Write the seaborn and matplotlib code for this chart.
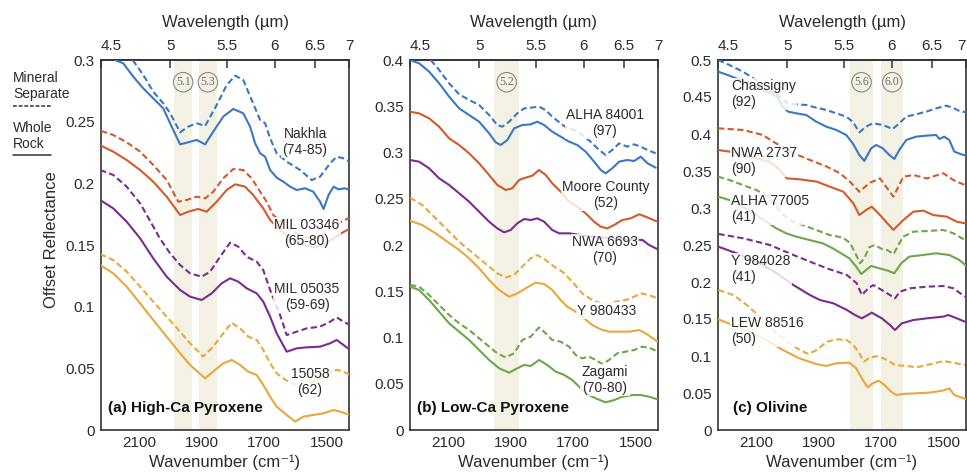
import numpy as np
import pandas as pd
import matplotlib
matplotlib.use("Agg")
import matplotlib.pyplot as plt
import matplotlib.transforms as mtransforms
from matplotlib.lines import Line2D
from matplotlib.ticker import FormatStrFormatter
import seaborn as sns

# ---------------- data (wavenumber cm-1, offset reflectance) ----------------
# (a) High-Ca pyroxene
nakhla_ms = [(2121,0.300),(2087,0.2879),(2055,0.2743),(2023,0.2649),(2001,0.2568),(1969,0.2414),(1943,0.2460),(1916,0.2487),(1889,0.2465),(1852,0.2635),(1820,0.2797),(1793,0.2873),(1767,0.2838),(1740,0.2676),(1713,0.2514),(1697,0.2487),(1681,0.2365),(1660,0.2243),(1628,0.2176),(1585,0.2108),(1548,0.2027),(1521,0.2054),(1489,0.2162),(1468,0.2216),(1446,0.2203),(1428,0.2176)]
nakhla_wr = [(2177,0.300),(2151,0.2973),(2119,0.2865),(2087,0.2770),(2055,0.2689),(2023,0.2608),(1996,0.2459),(1969,0.2316),(1943,0.2333),(1916,0.2352),(1889,0.2316),(1863,0.2419),(1831,0.2541),(1799,0.2603),(1767,0.2568),(1745,0.2459),(1729,0.2324),(1713,0.2243),(1697,0.2216),(1681,0.2108),(1660,0.2046),(1639,0.2014),(1617,0.1973),(1596,0.1946),(1569,0.1960),(1543,0.1932),(1521,0.1851),(1510,0.1792),(1494,0.1905),(1478,0.1973),(1462,0.1951),(1441,0.1960),(1428,0.1946)]
mil03346_ms = [(2222,0.2425),(2183,0.2392),(2140,0.2333),(2097,0.2257),(2055,0.2149),(2012,0.2027),(1975,0.1851),(1948,0.1865),(1916,0.1892),(1889,0.1878),(1863,0.1932),(1831,0.2041),(1799,0.2116),(1767,0.2108),(1740,0.2041),(1713,0.1932),(1692,0.1851),(1671,0.1743),(1620,0.163),(1585,0.158),(1550,0.155),(1520,0.157),(1490,0.163),(1460,0.168),(1428,0.172)]
mil03346_wr = [(2222,0.2305),(2183,0.2257),(2140,0.2189),(2097,0.2108),(2055,0.2013),(2012,0.1892),(1969,0.1743),(1943,0.1770),(1911,0.1792),(1884,0.1770),(1852,0.1851),(1820,0.1946),(1793,0.1992),(1761,0.1973),(1735,0.1905),(1703,0.1797),(1681,0.1703),(1650,0.162),(1610,0.155),(1570,0.150),(1540,0.148),(1510,0.150),(1480,0.155),(1450,0.160),(1428,0.163)]
mil05035_ms = [(2225,0.2108),(2183,0.2068),(2140,0.1973),(2097,0.1838),(2055,0.165),(2033,0.155),(2001,0.1432),(1969,0.1338),(1937,0.1270),(1900,0.1243),(1873,0.1284),(1841,0.1405),(1809,0.1519),(1783,0.1487),(1756,0.1405),(1724,0.1365),(1703,0.1297),(1681,0.1135),(1649,0.0932),(1628,0.0770),(1596,0.0797),(1564,0.0824),(1521,0.0838),(1489,0.0878),(1468,0.0913),(1446,0.0878),(1425,0.0851)]
mil05035_wr = [(2225,0.1865),(2183,0.1797),(2140,0.1689),(2097,0.1554),(2055,0.1392),(2012,0.1243),(1969,0.1135),(1937,0.1081),(1900,0.1054),(1868,0.1108),(1836,0.1189),(1809,0.1230),(1783,0.1203),(1756,0.1149),(1724,0.1108),(1703,0.1041),(1681,0.0919),(1660,0.0784),(1628,0.0635),(1596,0.0662),(1564,0.0670),(1521,0.0676),(1489,0.0703),(1468,0.0730),(1446,0.0689),(1425,0.0649)]
s15058_ms = [(2225,0.1427),(2183,0.1378),(2140,0.1284),(2097,0.1162),(2055,0.1041),(2012,0.0919),(1969,0.0797),(1937,0.0703),(1895,0.0595),(1863,0.0676),(1831,0.0784),(1804,0.0870),(1777,0.0824),(1751,0.0757),(1724,0.0730),(1703,0.0649),(1681,0.0541),(1660,0.0459),(1628,0.040),(1596,0.036),(1564,0.037),(1532,0.040),(1489,0.0473),(1468,0.0487),(1446,0.0473),(1425,0.0446)]
s15058_wr = [(2225,0.1338),(2183,0.1270),(2140,0.1162),(2097,0.1027),(2055,0.0892),(2012,0.0757),(1969,0.0622),(1937,0.0527),(1889,0.0419),(1857,0.0487),(1831,0.0541),(1804,0.0568),(1777,0.0527),(1751,0.0473),(1724,0.0446),(1703,0.0365),(1681,0.0270),(1660,0.0189),(1628,0.0122),(1601,0.0068),(1575,0.0108),(1543,0.0122),(1510,0.0135),(1478,0.0162),(1457,0.0149),(1425,0.0122)]

# (b) Low-Ca pyroxene
alha84001_ms = [(2156,0.4000),(2129,0.3892),(2097,0.3748),(2065,0.3629),(2033,0.3568),(2001,0.3514),(1969,0.3405),(1943,0.3297),(1927,0.3279),(1905,0.3333),(1879,0.3423),(1857,0.3477),(1836,0.3485),(1809,0.3495),(1788,0.3459),(1767,0.3387),(1740,0.3315),(1719,0.3261),(1697,0.3243),(1671,0.3189),(1644,0.3117),(1617,0.3027),(1596,0.2973),(1575,0.3027),(1553,0.3099),(1527,0.3063),(1505,0.3088),(1484,0.3063),(1462,0.3027),(1436,0.2991)]
alha84001_wr = [(2222,0.4000),(2193,0.3964),(2161,0.3874),(2129,0.3748),(2097,0.3604),(2065,0.3477),(2033,0.3405),(2001,0.3333),(1969,0.3207),(1948,0.3110),(1932,0.3081),(1911,0.3135),(1889,0.3261),(1863,0.3297),(1836,0.3304),(1815,0.3333),(1793,0.3297),(1767,0.3225),(1740,0.3171),(1713,0.3117),(1687,0.3081),(1660,0.3009),(1633,0.2901),(1612,0.2811),(1596,0.2775),(1575,0.2829),(1553,0.2901),(1527,0.2919),(1505,0.2908),(1484,0.2955),(1462,0.2883),(1436,0.2836)]
moore_wr = [(2222,0.3441),(2193,0.3423),(2161,0.3369),(2129,0.3279),(2097,0.3153),(2065,0.3081),(2033,0.2991),(2001,0.2883),(1969,0.2757),(1943,0.2649),(1916,0.2595),(1895,0.2613),(1873,0.2703),(1852,0.2728),(1831,0.2749),(1809,0.2811),(1788,0.2757),(1767,0.2667),(1740,0.2577),(1713,0.2468),(1687,0.2414),(1660,0.2342),(1633,0.2252),(1612,0.2198),(1591,0.2180),(1569,0.2216),(1543,0.2270),(1516,0.2288),(1489,0.2332),(1468,0.2306),(1430,0.2252)]
nwa6693_wr = [(2222,0.2919),(2193,0.2901),(2161,0.2829),(2129,0.2721),(2097,0.2649),(2065,0.2559),(2033,0.2468),(2001,0.2360),(1969,0.2252),(1943,0.2180),(1921,0.2137),(1900,0.2162),(1879,0.2234),(1857,0.2281),(1836,0.2270),(1815,0.2288),(1793,0.2252),(1767,0.2162),(1745,0.2126),(1713,0.2126),(1680,0.2110),(1640,0.2090),(1600,0.2080),(1560,0.2070),(1520,0.2060),(1478,0.2054),(1457,0.2000),(1425,0.1946)]
y980433_ms = [(2222,0.2512),(2183,0.2432),(2140,0.2288),(2097,0.2144),(2065,0.2036),(2033,0.1946),(2001,0.1856),(1969,0.1766),(1943,0.1694),(1916,0.1650),(1889,0.1676),(1863,0.1766),(1836,0.1856),(1815,0.1892),(1788,0.1838),(1761,0.1766),(1735,0.1712),(1703,0.1604),(1671,0.1477),(1639,0.1405),(1612,0.1369),(1591,0.1358),(1564,0.1387),(1532,0.1405),(1505,0.1441),(1484,0.1477),(1457,0.1459),(1430,0.1423)]
y980433_wr = [(2222,0.2263),(2183,0.2216),(2140,0.2126),(2103,0.2036),(2065,0.1946),(2033,0.1856),(2001,0.1748),(1969,0.1622),(1937,0.1514),(1905,0.1441),(1879,0.1477),(1852,0.1532),(1820,0.1593),(1793,0.1578),(1767,0.1514),(1740,0.1405),(1719,0.1333),(1692,0.1279),(1665,0.1207),(1639,0.1135),(1612,0.1088),(1585,0.1063),(1553,0.1063),(1521,0.1063),(1489,0.1081),(1468,0.1045),(1430,0.0955)]
zagami_ms = [(2222,0.1568),(2193,0.1550),(2161,0.1459),(2129,0.1351),(2097,0.1243),(2065,0.1153),(2033,0.1081),(2001,0.0991),(1969,0.0901),(1943,0.0829),(1916,0.0785),(1889,0.0829),(1863,0.0973),(1836,0.1009),(1809,0.1110),(1788,0.1045),(1767,0.0973),(1740,0.0955),(1713,0.0901),(1692,0.0811),(1671,0.0775),(1649,0.0793),(1628,0.0757),(1607,0.0713),(1585,0.0757),(1559,0.0829),(1532,0.0847),(1505,0.0865),(1478,0.0901),(1452,0.0883),(1430,0.0847)]
zagami_wr = [(2222,0.1550),(2193,0.1513),(2161,0.1405),(2129,0.1279),(2097,0.1153),(2065,0.1063),(2033,0.0973),(2001,0.0865),(1969,0.0757),(1937,0.0667),(1905,0.0620),(1879,0.0667),(1857,0.0703),(1836,0.0692),(1809,0.0757),(1783,0.0703),(1756,0.0631),(1729,0.0595),(1703,0.0541),(1681,0.0468),(1660,0.0396),(1628,0.0342),(1596,0.0299),(1569,0.0324),(1543,0.0360),(1510,0.0378),(1484,0.0378),(1457,0.0360),(1430,0.0331)]

# (c) Olivine
chassigny_ms = [(2222,0.5000),(2186,0.4933),(2143,0.4843),(2100,0.4730),(2068,0.4640),(2033,0.4527),(1998,0.4414),(1972,0.4401),(1940,0.4392),(1908,0.4356),(1876,0.4325),(1844,0.4280),(1812,0.4235),(1791,0.4167),(1770,0.4023),(1748,0.4100),(1727,0.4145),(1695,0.4122),(1663,0.4068),(1642,0.4145),(1620,0.4235),(1588,0.4266),(1556,0.4302),(1524,0.4347),(1492,0.4383),(1471,0.4356),(1450,0.4311),(1428,0.4293)]
chassigny_wr = [(2222,0.4843),(2186,0.4789),(2143,0.4717),(2100,0.4640),(2068,0.4581),(2033,0.4505),(2015,0.4370),(1998,0.4302),(1972,0.4280),(1940,0.4257),(1908,0.4167),(1876,0.4100),(1844,0.4055),(1812,0.3987),(1791,0.3874),(1770,0.3717),(1754,0.3636),(1732,0.3807),(1716,0.3852),(1695,0.3807),(1674,0.3717),(1658,0.3663),(1642,0.3784),(1620,0.3919),(1588,0.3964),(1556,0.3978),(1524,0.3987),(1514,0.3933),(1498,0.3964),(1482,0.3919),(1466,0.3762),(1444,0.3726),(1428,0.3708)]
nwa2737_ms = [(2222,0.4077),(2141,0.4054),(2079,0.3987),(2045,0.3896),(1992,0.3761),(1928,0.3649),(1874,0.3559),(1832,0.3469),(1800,0.3356),(1770,0.3220),(1736,0.3342),(1704,0.3400),(1661,0.3153),(1629,0.3423),(1597,0.3446),(1554,0.3400),(1501,0.3469),(1469,0.3378),(1432,0.3310)]
nwa2737_wr = [(2222,0.3784),(2184,0.3761),(2120,0.3694),(2056,0.3626),(2024,0.3514),(2002,0.3400),(1960,0.3387),(1906,0.3356),(1864,0.3288),(1821,0.3220),(1789,0.3063),(1770,0.2905),(1748,0.2973),(1730,0.3018),(1704,0.2905),(1661,0.2703),(1629,0.2838),(1597,0.2950),(1565,0.2964),(1533,0.2905),(1490,0.2883),(1458,0.2815),(1432,0.2793)]
alha77005_ms = [(2222,0.3424),(2186,0.3379),(2143,0.3311),(2100,0.3244),(2068,0.3176),(2036,0.3018),(2015,0.2915),(1983,0.2816),(1951,0.2770),(1908,0.2703),(1866,0.2636),(1823,0.2600),(1800,0.2530),(1780,0.2365),(1768,0.2253),(1754,0.2320),(1738,0.2470),(1720,0.2500),(1700,0.2450),(1680,0.2430),(1660,0.2378),(1645,0.2500),(1630,0.2612),(1597,0.2680),(1554,0.2689),(1501,0.2703),(1469,0.2658),(1432,0.2568)]
alha77005_wr = [(2222,0.3154),(2186,0.3108),(2143,0.3018),(2100,0.2906),(2068,0.2816),(2036,0.2726),(2004,0.2658),(1972,0.2613),(1930,0.2568),(1887,0.2523),(1855,0.2455),(1802,0.2320),(1780,0.2208),(1764,0.2108),(1748,0.2163),(1732,0.2217),(1706,0.2185),(1679,0.2154),(1658,0.2118),(1636,0.2253),(1610,0.2343),(1567,0.2365),(1524,0.2388),(1482,0.2365),(1450,0.2298),(1428,0.2220)]
y984028_ms = [(2221,0.2649),(2141,0.2590),(2056,0.2500),(1981,0.2365),(1928,0.2275),(1874,0.2185),(1810,0.2095),(1778,0.1982),(1762,0.1824),(1741,0.1915),(1725,0.1959),(1698,0.1892),(1672,0.1824),(1656,0.1779),(1640,0.1869),(1608,0.1915),(1554,0.1937),(1501,0.1946),(1469,0.1915),(1432,0.1802)]
y984028_wr = [(2221,0.2477),(2162,0.2387),(2088,0.2252),(2034,0.2117),(1981,0.1959),(1928,0.1824),(1896,0.1757),(1853,0.1712),(1810,0.1622),(1784,0.1554),(1762,0.1509),(1730,0.1585),(1698,0.1509),(1672,0.1419),(1656,0.1351),(1634,0.1441),(1597,0.1486),(1554,0.1509),(1501,0.1532),(1485,0.1554),(1458,0.1509),(1432,0.1464)]
lew88516_ms = [(2221,0.1892),(2173,0.1824),(2130,0.1689),(2088,0.1531),(2045,0.1351),(2002,0.1193),(1960,0.1081),(1933,0.1027),(1906,0.1081),(1874,0.1193),(1842,0.1225),(1810,0.1216),(1789,0.1149),(1770,0.1036),(1755,0.0923),(1736,0.0982),(1709,0.1000),(1682,0.0946),(1656,0.0878),(1618,0.0865),(1586,0.0847),(1554,0.0878),(1501,0.0932),(1469,0.0910),(1432,0.0878)]
lew88516_wr = [(2222,0.1496),(2175,0.1419),(2122,0.1329),(2068,0.1217),(2015,0.1082),(1962,0.0969),(1908,0.0892),(1876,0.0865),(1844,0.0901),(1802,0.0910),(1780,0.0834),(1759,0.0676),(1743,0.0577),(1727,0.0631),(1708,0.0667),(1690,0.0609),(1668,0.0518),(1652,0.0473),(1631,0.0487),(1588,0.0496),(1546,0.0505),(1503,0.0532),(1482,0.0563),(1466,0.0473),(1428,0.0415)]

# sample names, curve labels, shaded bands (in µm) and tick values
panel_titles = ["(a) High-Ca Pyroxene", "(b) Low-Ca Pyroxene", "(c) Olivine"]
panel_ymax = [0.3, 0.4, 0.5]
band_um = [[(5.03, 5.18), (5.24, 5.40)], [(5.12, 5.34)], [(5.56, 5.79), (5.88, 6.14)]]
band_text = [["5.1", "5.3"], ["5.2"], ["5.6", "6.0"]]
wavenumber_ticks = [2100, 2000, 1900, 1800, 1700, 1600, 1500]
wavenumber_labels = ["2100", "", "1900", "", "1700", "", "1500"]
wavelength_ticks = [4.5, 5, 5.5, 6, 6.5, 7]
sample_labels = [
    ["Nakhla\n(74-85)", "MIL 03346\n(65-80)", "MIL 05035\n(59-69)", "15058\n(62)"],
    ["ALHA 84001\n(97)", "Moore County\n(52)", "NWA 6693\n(70)", "Y 980433", "Zagami\n(70-80)"],
    ["Chassigny\n(92)", "NWA 2737\n(90)", "ALHA 77005\n(41)", "Y 984028\n(41)", "LEW 88516\n(50)"],
]

BLUE, ORANGE, PURPLE, GOLD, GREEN = "#3b78c3", "#d4592c", "#7b2c8f", "#e8a83a", "#6aa84a"
curves = [
    # panel, series, kind, data, color
    (0, "Nakhla", "Mineral Separate", nakhla_ms, BLUE),
    (0, "Nakhla", "Whole Rock", nakhla_wr, BLUE),
    (0, "MIL 03346", "Mineral Separate", mil03346_ms, ORANGE),
    (0, "MIL 03346", "Whole Rock", mil03346_wr, ORANGE),
    (0, "MIL 05035", "Mineral Separate", mil05035_ms, PURPLE),
    (0, "MIL 05035", "Whole Rock", mil05035_wr, PURPLE),
    (0, "15058", "Mineral Separate", s15058_ms, GOLD),
    (0, "15058", "Whole Rock", s15058_wr, GOLD),
    (1, "ALHA 84001", "Mineral Separate", alha84001_ms, BLUE),
    (1, "ALHA 84001", "Whole Rock", alha84001_wr, BLUE),
    (1, "Moore County", "Whole Rock", moore_wr, ORANGE),
    (1, "NWA 6693", "Whole Rock", nwa6693_wr, PURPLE),
    (1, "Y 980433", "Mineral Separate", y980433_ms, GOLD),
    (1, "Y 980433", "Whole Rock", y980433_wr, GOLD),
    (1, "Zagami", "Mineral Separate", zagami_ms, GREEN),
    (1, "Zagami", "Whole Rock", zagami_wr, GREEN),
    (2, "Chassigny", "Mineral Separate", chassigny_ms, BLUE),
    (2, "Chassigny", "Whole Rock", chassigny_wr, BLUE),
    (2, "NWA 2737", "Mineral Separate", nwa2737_ms, ORANGE),
    (2, "NWA 2737", "Whole Rock", nwa2737_wr, ORANGE),
    (2, "ALHA 77005", "Mineral Separate", alha77005_ms, GREEN),
    (2, "ALHA 77005", "Whole Rock", alha77005_wr, GREEN),
    (2, "Y 984028", "Mineral Separate", y984028_ms, PURPLE),
    (2, "Y 984028", "Whole Rock", y984028_wr, PURPLE),
    (2, "LEW 88516", "Mineral Separate", lew88516_ms, GOLD),
    (2, "LEW 88516", "Whole Rock", lew88516_wr, GOLD),
]

rows = []
for p, s, k, pts, c in curves:
    for w, r in pts:
        rows.append({"panel": p, "series": s, "kind": k, "wn": w, "r": r})
df = pd.DataFrame(rows)
palette = {s: c for _, s, _, _, c in curves}

# ---------------- layout ----------------
sns.set_style("white")
plt.rcParams["font.family"] = ["Liberation Sans", "DejaVu Sans"]
TXT = "#2b2b2b"
BAND = "#f2f1e3"

W, H = 967, 473
fig = plt.figure(figsize=(W / 100, H / 100), dpi=100)
lefts = [101, 410, 718]
ax_w, ax_h, ax_bottom, ax_top = 248, 370, 430, 60

label_pos = [
    [(0.823, 0.778), (0.831, 0.532), (0.831, 0.359), (0.843, 0.130)],
    [(0.786, 0.830), (0.790, 0.635), (0.786, 0.486), (0.794, 0.322), (0.786, 0.135)],
    [(0.052, 0.908), (0.052, 0.727), (0.052, 0.597), (0.052, 0.435), (0.052, 0.268)],
]

def fwd(x):
    x = np.asarray(x, dtype=float)
    with np.errstate(divide="ignore"):
        return np.where(x == 0, np.inf, 1e4 / np.where(x == 0, 1, x))

for i in range(3):
    ax = fig.add_axes([lefts[i] / W, (H - ax_bottom) / H, ax_w / W, ax_h / H])
    sub = df[df.panel == i]
    sns.lineplot(data=sub, x="wn", y="r", hue="series", style="kind",
                 palette={k: v for k, v in palette.items() if k in set(sub.series)},
                 dashes={"Mineral Separate": (3.0, 1.6), "Whole Rock": ""},
                 estimator=None, sort=False, legend=False, lw=1.5, ax=ax, zorder=3)
    for (lo, hi), t in zip(band_um[i], band_text[i]):
        ax.axvspan(1e4 / lo, 1e4 / hi, color=BAND, lw=0, zorder=0)
        trans = mtransforms.blended_transform_factory(ax.transData, ax.transAxes)
        ax.text(0.5 * (1e4 / lo + 1e4 / hi), 0.94, t, transform=trans, ha="center", va="center",
                fontsize=8.5, family="Liberation Serif", color="#707070", zorder=5,
                bbox=dict(boxstyle="circle,pad=0.2", fc="none", ec="#888888", lw=0.8))
    ax.set_xlim(1e4 / 4.5, 1e4 / 7.0)
    ax.set_ylim(0, panel_ymax[i])
    ax.set_yticks(np.round(np.arange(0, panel_ymax[i] + 1e-9, 0.05), 2))
    ax.yaxis.set_major_formatter(FormatStrFormatter("%g"))
    ax.set_xticks(wavenumber_ticks)
    ax.set_xticklabels(wavenumber_labels)
    ax.tick_params(axis="both", direction="in", length=6, width=1.1, color="#333333",
                   labelsize=11, labelcolor=TXT, pad=4.5)
    ax.tick_params(axis="y", right=False)
    ax.set_xlabel("Wavenumber (cm\u207b\u00b9)", fontsize=12, color=TXT, labelpad=3)
    ax.set_ylabel("")
    for sp in ax.spines.values():
        sp.set_color("#333333")
        sp.set_linewidth(1.2)

    sec = ax.secondary_xaxis("top", functions=(fwd, fwd))
    sec.set_xticks(wavelength_ticks)
    sec.xaxis.set_major_formatter(FormatStrFormatter("%g"))
    sec.tick_params(direction="in", length=6, width=1.1, color="#333333",
                    labelsize=11, labelcolor=TXT, pad=5)
    sec.spines["top"].set_color("#333333")
    sec.spines["top"].set_linewidth(1.2)
    sec.set_xlabel("Wavelength (\u00b5m)", fontsize=12, color=TXT, labelpad=9)
    ticks = sec.xaxis.get_major_ticks()
    for lab in (ticks[0].label1, ticks[0].label2):
        lab.set_ha("left")
    if i == 2:
        for lab in (ticks[-1].label1, ticks[-1].label2):
            lab.set_ha("right")

    ax.text(0.028 if i < 2 else 0.06, 0.06, panel_titles[i], transform=ax.transAxes,
            fontsize=11, fontweight="bold", color="#111111", ha="left", va="center", zorder=6)

    for txt, (fx, fy) in zip(sample_labels[i], label_pos[i]):
        ax.text(fx, fy, txt, transform=ax.transAxes, fontsize=10, color=TXT,
                ha="left" if i == 2 else "center", va="center", linespacing=1.15, zorder=6,
                bbox=dict(boxstyle="square,pad=0.1", fc="white", ec="none", alpha=0.82))

# y label and line-style key
fig.text(52 / W, 1 - 240 / H, "Offset Reflectance", rotation=90, ha="center", va="center",
         fontsize=12, color=TXT)
fig.text(13 / W, 1 - 86 / H, "Mineral\nSeparate", ha="left", va="center", fontsize=10,
         color=TXT, linespacing=1.15)
fig.text(13 / W, 1 - 136 / H, "Whole\nRock", ha="left", va="center", fontsize=10,
         color=TXT, linespacing=1.15)
fig.add_artist(Line2D([13 / W, 52 / W], [1 - 106 / H] * 2, transform=fig.transFigure,
                      color="#333333", lw=1.1, ls=(0, (2.5, 1.2))))
fig.add_artist(Line2D([13 / W, 51 / W], [1 - 155 / H] * 2, transform=fig.transFigure,
                      color="#333333", lw=1.1))

fig.savefig("out.png", dpi=100)
